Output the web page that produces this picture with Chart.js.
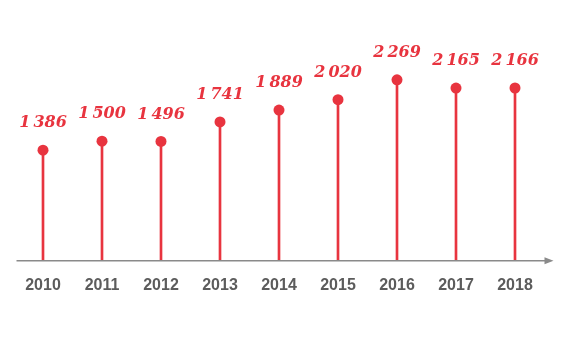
<!DOCTYPE html>
<html>
<head>
<meta charset="utf-8">
<script src="https://cdn.jsdelivr.net/npm/chart.js@4/dist/chart.umd.min.js"></script>
<style>
  html, body { margin: 0; padding: 0; background: #fff; }
  #wrap { width: 567px; height: 338px; }
</style>
</head>
<body>
<div id="wrap"><canvas id="chart"></canvas></div>
<script>
const years = ['2010', '2011', '2012', '2013', '2014', '2015', '2016', '2017', '2018'];
const values = [1386, 1500, 1496, 1741, 1889, 2020, 2269, 2165, 2166];

const RED = '#e8343f';
const GREY = '#5c5c5c';

// numbers like "1 386" with a narrow space
function fmt(v) {
    return String(v).replace(/\B(?=(\d{3})+(?!\d))/g, '\u202F');
}

// value labels above the points + axis line with arrow
const lollipopExtras = {
    id: 'lollipopExtras',
    afterDatasetsDraw(chart) {
        const ctx = chart.ctx;
        const area = chart.chartArea;
        const meta = chart.getDatasetMeta(1);

        ctx.save();
        // axis line
        const y0 = chart.scales.y.getPixelForValue(0);
        ctx.strokeStyle = '#8a8a8a';
        ctx.lineWidth = 1.5;
        ctx.beginPath();
        ctx.moveTo(area.left + 3, y0);
        ctx.lineTo(area.right + 2, y0);
        ctx.stroke();
        ctx.fillStyle = '#8a8a8a';
        ctx.beginPath();
        ctx.moveTo(area.right + 9, y0);
        ctx.lineTo(area.right, y0 - 3.5);
        ctx.lineTo(area.right, y0 + 3.5);
        ctx.closePath();
        ctx.fill();

        // labels
        ctx.fillStyle = RED;
        ctx.font = 'italic bold 16px "DejaVu Serif"';
        ctx.textAlign = 'center';
        ctx.textBaseline = 'middle';
        meta.data.forEach((pt, i) => {
            ctx.fillText(fmt(values[i]), pt.x, pt.y - 27);
        });
        ctx.restore();
    }
};

new Chart(document.getElementById('chart').getContext('2d'), {
    data: {
        labels: years,
        datasets: [{
            type: 'bar',
            data: values,
            backgroundColor: RED,
            barThickness: 2,
        }, {
            type: 'line',
            data: values,
            showLine: false,
            pointRadius: 5.5,
            pointBackgroundColor: RED,
            pointBorderWidth: 0,
        }]
    },
    options: {
        responsive: true,
        maintainAspectRatio: false,
        animation: false,
        layout: { padding: { left: 13.5, right: 22.5, top: 0, bottom: 28 } },
        plugins: {
            legend: { display: false },
            tooltip: { enabled: false },
        },
        scales: {
            y: {
                display: false,
                min: 0,
                max: 3200,
            },
            x: {
                offset: true,
                grid: { display: false, drawTicks: false },
                border: { display: false },
                ticks: {
                    color: GREY,
                    padding: 15,
                    font: { family: '"Liberation Sans"', weight: 'bold', size: 16 },
                }
            }
        }
    },
    plugins: [lollipopExtras]
});
</script>
</body>
</html>
